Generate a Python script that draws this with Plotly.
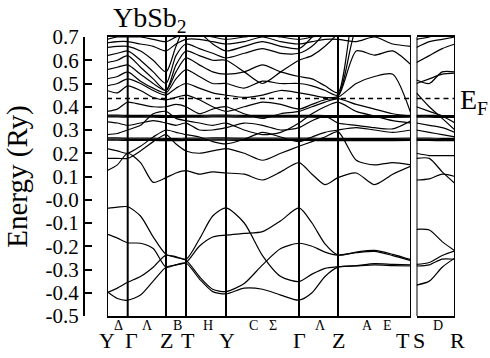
import plotly.graph_objects as go

# ---------------- data ----------------
kpts_left = [0, 20.7, 59, 79, 119, 192, 231, 304]
labels_left = ["Y", "Γ", "Z", "T", "Y", "Γ", "Z", "T"]
kpts_right = [0, 38.5]
labels_right = ["S", "R"]
sub_labels_left = ["Δ", "Λ", "B", "H", "C", "Σ", "Λ", "A", "E"]
sub_pos_left = [11, 40, 70, 101, 146, 166, 213, 260, 280]
sub_labels_right = ["D"]
sub_pos_right = [21.5]
fermi = 0.435

#            Y      .      Γ      .      .      Z      .      T      .      .      Y      .      .      .      Γ      .      .      Z      .      .      .      T
grid_left = [0, 10.35, 20.7, 33.5, 46.2, 59, 69, 79, 92.3, 105.7, 119, 137.25, 155.5, 173.75, 192, 205, 218, 231, 249.25, 267.5, 285.75, 304]

bands_left = [
    [-0.037, -0.032, -0.030, -0.07, -0.16, -0.235, -0.245, -0.256, -0.17, -0.07, -0.035, -0.10, -0.24, -0.33, -0.352, -0.32, -0.295, -0.288, -0.283, -0.275, -0.278, -0.280],
    [-0.148, -0.165, -0.185, -0.187, -0.21, -0.29, -0.28, -0.27, -0.20, -0.16, -0.152, -0.145, -0.137, -0.09, -0.035, -0.10, -0.19, -0.238, -0.225, -0.218, -0.235, -0.258],
    [-0.400, -0.380, -0.355, -0.33, -0.29, -0.238, -0.248, -0.26, -0.33, -0.385, -0.395, -0.36, -0.28, -0.21, -0.187, -0.20, -0.225, -0.238, -0.228, -0.222, -0.24, -0.262],
    [-0.395, -0.425, -0.432, -0.41, -0.35, -0.29, -0.28, -0.272, -0.34, -0.395, -0.405, -0.38, -0.385, -0.41, -0.432, -0.40, -0.33, -0.29, -0.285, -0.28, -0.283, -0.285],
    [0.125, 0.15, 0.20, 0.16, 0.075, 0.095, 0.115, 0.125, 0.11, 0.12, 0.115, 0.11, 0.085, 0.12, 0.16, 0.11, 0.065, 0.095, 0.115, 0.065, 0.11, 0.145],
    [0.178, 0.178, 0.178, 0.21, 0.25, 0.28, 0.24, 0.21, 0.20, 0.21, 0.22, 0.20, 0.17, 0.20, 0.23, 0.25, 0.27, 0.293, 0.17, 0.15, 0.16, 0.15],
    [0.22, 0.21, 0.20, 0.23, 0.27, 0.30, 0.29, 0.28, 0.27, 0.25, 0.24, 0.26, 0.29, 0.27, 0.25, 0.27, 0.29, 0.30, 0.31, 0.30, 0.29, 0.30],
    [0.335, 0.33, 0.32, 0.33, 0.34, 0.33, 0.32, 0.33, 0.30, 0.30, 0.31, 0.33, 0.32, 0.30, 0.31, 0.34, 0.36, 0.33, 0.32, 0.31, 0.305, 0.34],
    [0.28, 0.285, 0.30, 0.32, 0.37, 0.38, 0.35, 0.34, 0.33, 0.32, 0.33, 0.30, 0.28, 0.29, 0.33, 0.37, 0.40, 0.42, 0.38, 0.36, 0.34, 0.33],
    [0.38, 0.39, 0.42, 0.41, 0.40, 0.40, 0.41, 0.40, 0.37, 0.39, 0.40, 0.37, 0.35, 0.37, 0.38, 0.40, 0.42, 0.435, 0.41, 0.39, 0.37, 0.36],
    [0.47, 0.46, 0.49, 0.47, 0.44, 0.43, 0.44, 0.45, 0.43, 0.40, 0.38, 0.40, 0.42, 0.41, 0.39, 0.41, 0.43, 0.44, 0.50, 0.53, 0.54, 0.37],
    [0.49, 0.50, 0.52, 0.50, 0.47, 0.45, 0.48, 0.50, 0.48, 0.46, 0.45, 0.44, 0.45, 0.47, 0.46, 0.45, 0.44, 0.445, 0.64, 0.622, 0.64, 0.58],
    [0.52, 0.53, 0.55, 0.51, 0.48, 0.46, 0.52, 0.56, 0.53, 0.50, 0.50, 0.48, 0.51, 0.50, 0.50, 0.49, 0.47, 0.45, 0.74, 0.82, 0.85, 0.85],
    [0.56, 0.57, 0.58, 0.54, 0.50, 0.47, 0.55, 0.61, 0.58, 0.55, 0.54, 0.55, 0.58, 0.55, 0.53, 0.52, 0.49, 0.46, 0.86, 0.95, 0.95, 0.95],
    [0.59, 0.60, 0.62, 0.57, 0.52, 0.47, 0.58, 0.64, 0.62, 0.60, 0.60, 0.55, 0.50, 0.55, 0.60, 0.62, 0.66, 0.72, 0.90, 0.95, 0.95, 0.95],
    [0.62, 0.63, 0.64, 0.60, 0.55, 0.50, 0.62, 0.67, 0.65, 0.63, 0.61, 0.63, 0.65, 0.63, 0.63, 0.66, 0.72, 0.80, 0.95, 1.00, 1.00, 1.00],
    [0.655, 0.66, 0.66, 0.64, 0.60, 0.55, 0.66, 0.75, 0.72, 0.67, 0.64, 0.66, 0.68, 0.66, 0.65, 0.70, 0.78, 0.88, 1.00, 1.00, 1.00, 1.00],
    [0.675, 0.68, 0.68, 0.67, 0.66, 0.64, 0.67, 0.69, 0.69, 0.68, 0.67, 0.68, 0.70, 0.68, 0.67, 0.68, 0.69, 0.69, 0.68, 0.70, 0.67, 0.66],
    [0.69, 0.70, 0.70, 0.70, 0.69, 0.68, 0.70, 0.71, 0.71, 0.70, 0.69, 0.70, 0.71, 0.70, 0.69, 0.70, 0.71, 0.72, 0.73, 0.74, 0.72, 0.70],
]
flat_left = [
    [0.364, 0.364, 0.363, 0.363, 0.363, 0.362, 0.362, 0.363, 0.363, 0.364, 0.364, 0.363, 0.363, 0.363, 0.363, 0.363, 0.362, 0.362, 0.362, 0.362, 0.362, 0.363],
    [0.360, 0.360, 0.359, 0.359, 0.359, 0.358, 0.358, 0.359, 0.359, 0.360, 0.360, 0.359, 0.359, 0.359, 0.359, 0.359, 0.358, 0.358, 0.358, 0.358, 0.358, 0.359],
    [0.356, 0.356, 0.355, 0.355, 0.355, 0.354, 0.354, 0.355, 0.355, 0.356, 0.356, 0.355, 0.355, 0.355, 0.355, 0.355, 0.354, 0.354, 0.354, 0.354, 0.354, 0.355],
    [0.266, 0.266, 0.265, 0.265, 0.265, 0.264, 0.264, 0.265, 0.265, 0.266, 0.266, 0.265, 0.265, 0.265, 0.265, 0.265, 0.264, 0.264, 0.264, 0.264, 0.264, 0.265],
    [0.261, 0.261, 0.260, 0.260, 0.260, 0.259, 0.259, 0.260, 0.260, 0.261, 0.261, 0.260, 0.260, 0.260, 0.260, 0.260, 0.259, 0.259, 0.259, 0.259, 0.259, 0.260],
    [0.256, 0.256, 0.255, 0.255, 0.255, 0.254, 0.254, 0.255, 0.255, 0.256, 0.256, 0.255, 0.255, 0.255, 0.255, 0.255, 0.254, 0.254, 0.254, 0.254, 0.254, 0.255],
]

grid_right = [0, 12.8, 25.7, 38.5]
bands_right = [
    [-0.127, -0.13, -0.18, -0.22],
    [-0.278, -0.27, -0.24, -0.22],
    [-0.285, -0.28, -0.255, -0.256],
    [-0.367, -0.35, -0.29, -0.25],
    [0.085, 0.09, 0.11, 0.10],
    [0.178, 0.178, 0.12, 0.07],
    [0.20, 0.19, 0.19, 0.19],
    [0.30, 0.29, 0.28, 0.27],
    [0.33, 0.32, 0.31, 0.29],
    [0.40, 0.38, 0.36, 0.33],
    [0.46, 0.40, 0.35, 0.30],
    [0.50, 0.52, 0.54, 0.545],
    [0.515, 0.50, 0.55, 0.55],
    [0.59, 0.62, 0.65, 0.67],
    [0.655, 0.68, 0.69, 0.70],
    [0.69, 0.70, 0.72, 0.74],
]
flat_right = [
    [0.363, 0.363, 0.362, 0.362],
    [0.359, 0.359, 0.358, 0.358],
    [0.355, 0.355, 0.354, 0.354],
    [0.265, 0.265, 0.264, 0.264],
    [0.260, 0.260, 0.259, 0.259],
    [0.255, 0.255, 0.254, 0.254],
]

# ---------------- figure ----------------
W, H = 490, 358
L, R, T, B = 84, 35, 37, 42
plot_w = W - L - R
plot_h = H - T - B
x1_dom = [(107 - L) / plot_w, (411 - L) / plot_w]
x2_dom = [(416.5 - L) / plot_w, 1.0]

fig = go.Figure()
band_line = dict(color="black", width=1.2, shape="spline", smoothing=0.7)
for b in bands_left + flat_left:
    fig.add_trace(go.Scatter(x=grid_left, y=b, mode="lines", line=band_line,
                             xaxis="x", yaxis="y", hoverinfo="skip", showlegend=False))
for b in bands_right + flat_right:
    fig.add_trace(go.Scatter(x=grid_right, y=b, mode="lines", line=band_line,
                             xaxis="x2", yaxis="y", hoverinfo="skip", showlegend=False))

# Fermi level
for xa, kp in (("x", kpts_left), ("x2", kpts_right)):
    fig.add_trace(go.Scatter(x=[kp[0], kp[-1]], y=[fermi, fermi], mode="lines",
                             line=dict(color="black", width=1.5, dash="5px,4px"),
                             xaxis=xa, yaxis="y", hoverinfo="skip", showlegend=False))

shapes = []
for k in kpts_left:
    shapes.append(dict(type="line", xref="x", yref="y domain", x0=k, x1=k, y0=0, y1=1,
                       line=dict(color="black", width=2)))
for k in kpts_right:
    shapes.append(dict(type="line", xref="x2", yref="y domain", x0=k, x1=k, y0=0, y1=1,
                       line=dict(color="black", width=2)))

serif = "Liberation Serif"
annotations = []
big_shift_left = [0, 4, 0, 2, 1, 0, 0, -8]
for k, lab, sh in zip(kpts_left, labels_left, big_shift_left):
    annotations.append(dict(x=k, y=-0.5, xref="x", yref="y", text=lab, showarrow=False,
                            xanchor="center", yanchor="middle", yshift=-24, xshift=sh,
                            font=dict(family=serif, size=22, color="black")))
for k, lab, sh in zip(kpts_right, labels_right, [2, 2]):
    annotations.append(dict(x=k, y=-0.5, xref="x2", yref="y", text=lab, showarrow=False,
                            xanchor="center", yanchor="middle", yshift=-24, xshift=sh,
                            font=dict(family=serif, size=22, color="black")))
for k, lab in zip(sub_pos_left, sub_labels_left):
    annotations.append(dict(x=k, y=-0.5, xref="x", yref="y", text=lab, showarrow=False,
                            xanchor="center", yanchor="middle", yshift=-9,
                            font=dict(family=serif, size=14, color="black")))
for k, lab in zip(sub_pos_right, sub_labels_right):
    annotations.append(dict(x=k, y=-0.5, xref="x2", yref="y", text=lab, showarrow=False,
                            xanchor="center", yanchor="middle", yshift=-9,
                            font=dict(family=serif, size=14, color="black")))
# title
annotations.append(dict(x=(111 - L) / plot_w, y=1 + (T - 19) / plot_h, xref="paper", yref="paper",
                        text="YbSb<sub>2</sub>", showarrow=False, xanchor="left", yanchor="middle",
                        font=dict(family=serif, size=28, color="black")))
# Fermi label
annotations.append(dict(x=1.0, y=fermi, xref="paper", yref="y", text="E<sub>F</sub>",
                        showarrow=False, xanchor="left", yanchor="middle", xshift=3, yshift=-3,
                        font=dict(family=serif, size=28, color="black")))

fig.update_layout(
    width=W, height=H,
    margin=dict(l=L, r=R, t=T, b=B, pad=0),
    paper_bgcolor="white", plot_bgcolor="white",
    xaxis=dict(domain=x1_dom, range=[kpts_left[0], kpts_left[-1]], showgrid=False, zeroline=False,
               showticklabels=False, ticks="", showline=True, mirror=True, linecolor="black",
               linewidth=2, anchor="y"),
    xaxis2=dict(domain=x2_dom, range=[kpts_right[0], kpts_right[-1]], showgrid=False, zeroline=False,
                showticklabels=False, ticks="", showline=True, mirror=True, linecolor="black",
                linewidth=2, anchor="y"),
    yaxis=dict(range=[-0.5, 0.7], anchor="free", position=0, showgrid=False, zeroline=False,
               tickmode="array", tickvals=[round(0.7 - 0.1 * i, 1) for i in range(13)],
               ticktext=["%.1f" % (0.7 - 0.1 * i) for i in range(13)],
               ticks="inside", ticklen=7, tickwidth=2, tickcolor="black",
               showline=True, linewidth=2, linecolor="black",
               tickfont=dict(family=serif, size=21, color="black"),
               title=dict(text="Energy (Ry)", font=dict(family=serif, size=29, color="black"), standoff=8)),
    shapes=shapes,
    annotations=annotations,
)

fig.write_html("out.html")
